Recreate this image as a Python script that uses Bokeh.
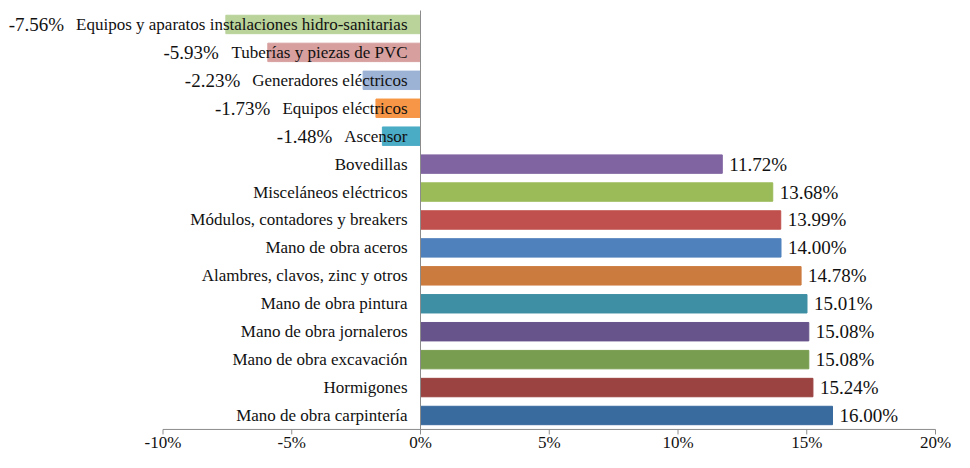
import math
from bokeh.plotting import figure
from bokeh.models import ColumnDataSource, Range1d
from bokeh.core.properties import value
from bokeh.embed import file_html
from bokeh.resources import INLINE

categories = [
    "Equipos y aparatos instalaciones hidro-sanitarias",
    "Tuberías y piezas de PVC",
    "Generadores eléctricos",
    "Equipos eléctricos",
    "Ascensor",
    "Bovedillas",
    "Misceláneos eléctricos",
    "Módulos, contadores y breakers",
    "Mano de obra aceros",
    "Alambres, clavos, zinc y otros",
    "Mano de obra pintura",
    "Mano de obra jornaleros",
    "Mano de obra excavación",
    "Hormigones",
    "Mano de obra carpintería",
]
values = [-7.56, -5.93, -2.23, -1.73, -1.48, 11.72, 13.68, 13.99, 14.00, 14.78,
          15.01, 15.08, 15.08, 15.24, 16.00]
colors = ["#B9D39A", "#D7A09F", "#9DB3D6", "#F79646", "#4BACC6", "#8064A2",
          "#9BBB59", "#C0504D", "#4F81BD", "#CC7B3E", "#3E8FA3", "#67548A",
          "#789D50", "#9A4341", "#3A6B9E"]
tick_values = [-10, -5, 0, 5, 10, 15, 20]

FONT = "Liberation Serif"
CAT_PX = 17
TXT = "#111111"
AXC = "#8C8C8C"

# approximate Times-metric advance widths (per 1000 em) to place labels beside text
_W = dict(zip("abcdefghijklmnopqrstuvwxyz",
              [444, 500, 444, 500, 444, 333, 500, 500, 278, 278, 500, 278, 778,
               500, 500, 500, 500, 333, 389, 278, 500, 500, 722, 500, 500, 444]))
_W.update(zip("ABCDEFGHIJKLMNOPQRSTUVWXYZ",
              [722, 667, 667, 722, 611, 556, 722, 722, 333, 389, 722, 611, 889,
               722, 722, 556, 722, 667, 556, 611, 722, 722, 944, 722, 722, 611]))
_W.update({" ": 250, "-": 333, ",": 250, "í": 278, "á": 444, "é": 444, "ó": 500})


def text_width(s, px):
    return sum(_W.get(ch, 500) for ch in s) * px / 1000.0


n = len(categories)
ys = [n - 1 - i for i in range(n)]

W, H = 954, 452
X0PIX, XSCALE = 420.0, 25.75     # pixel of 0% and pixels per 1%
YTOP, YSTEP = 10.0, 27.93        # pixel of top row edge and row spacing
x_start = -X0PIX / XSCALE
x_end = (W - X0PIX) / XSCALE
y_end = (n - 0.5) + YTOP / YSTEP
y_start = (n - 0.5) - (H - YTOP) / YSTEP

p = figure(width=W, height=H, x_range=Range1d(x_start, x_end),
           y_range=Range1d(y_start, y_end), output_backend="svg", toolbar_location=None,
           min_border_left=0, min_border_right=0, min_border_top=0, min_border_bottom=0)
p.outline_line_color = None
p.axis.visible = False
p.grid.visible = False
p.background_fill_color = "white"
p.border_fill_color = "white"

CAT_GAP = 13
labels_val = [f"{v:.2f}%" for v in values]
vx = [v if v > 0 else 0 for v in values]
voff = [7 if v > 0 else -(CAT_GAP + text_width(c, CAT_PX) + 12)
        for v, c in zip(values, categories)]
valign = ["left" if v > 0 else "right" for v in values]

src = ColumnDataSource(dict(y=ys, cat=categories, val=values, color=colors,
                            lab=labels_val, vx=vx, voff=voff, valign=valign,
                            zero=[0] * n))

p.hbar(y="y", left=0, right="val", height=0.66, color="color", source=src)

p.text(x="zero", y="y", text="cat", source=src, x_offset=-CAT_GAP,
       text_align="right", text_baseline="middle", text_font=value(FONT),
       text_font_size=f"{CAT_PX}px", text_color=TXT)
p.text(x="vx", y="y", text="lab", source=src, x_offset="voff",
       text_align="valign", text_baseline="middle", text_font=value(FONT),
       text_font_size="19px", text_color=TXT)

# zero line and axis
y_bot = -0.5
y_top = n - 0.5
p.segment(x0=[0], y0=[y_bot], x1=[0], y1=[y_top], line_color=AXC, line_width=1)
p.segment(x0=[tick_values[0]], y0=[y_bot], x1=[tick_values[-1]], y1=[y_bot],
          line_color=AXC, line_width=1)
p.ray(x=tick_values, y=[y_bot] * len(tick_values), length=5, length_units="screen",
      angle=-math.pi / 2, line_color=AXC, line_width=1)
p.text(x=tick_values, y=[y_bot] * len(tick_values),
       text=[f"{t}%" for t in tick_values], y_offset=4,
       text_align="center", text_baseline="top", text_font=value(FONT),
       text_font_size="17px", text_color=TXT)

open("out.html", "w").write(file_html(p, INLINE))
